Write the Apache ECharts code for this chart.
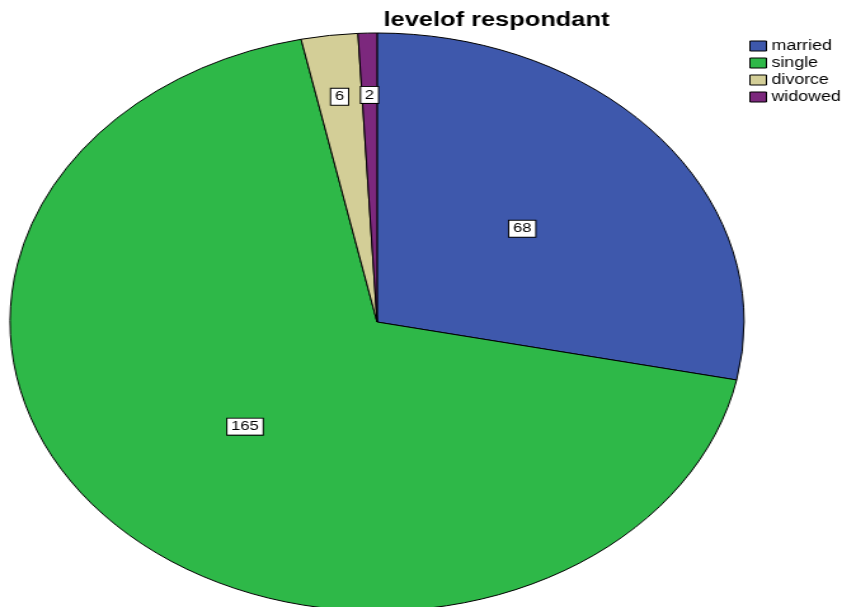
<!DOCTYPE html>
<html>
<head>
<meta charset="utf-8">
<script src="https://cdn.jsdelivr.net/npm/echarts@6/dist/echarts.min.js"></script>
<style>
  html, body { margin: 0; padding: 0; background: #fff; overflow: hidden; width: 845px; height: 607px; }
  /* The whole figure is drawn in a narrower space and stretched sideways, giving the oval pie and wide lettering. */
  #chart { position: absolute; left: 0; top: 0; width: 665.35px; height: 607px; transform: scaleX(1.27); transform-origin: 0 0; }
</style>
</head>
<body>
<div id="chart"></div>
<script>
// Marital status of respondents
const categories = ['married', 'single', 'divorce', 'widowed'];
const counts = [68, 165, 6, 2];
const sliceColors = ['#3E58AC', '#2EB848', '#D3CE97', '#7C287D'];
const chartTitle = 'levelof respondant';

const total = counts.reduce((a, b) => a + b, 0);
const pieCenter = [296.9, 322];
const pieRadius = 289;

const chart = echarts.init(document.getElementById('chart'), null, { renderer: 'canvas' });

chart.setOption({
  backgroundColor: 'transparent',
  animation: false,
  title: {
    text: chartTitle,
    left: 302,
    top: 10,
    padding: 0,
    textStyle: { fontFamily: 'Liberation Sans, Arial, sans-serif', fontSize: 20, fontWeight: 'bold', color: '#000' }
  },
  legend: {
    orient: 'vertical',
    left: 590,
    top: 39,
    padding: 0,
    itemWidth: 13,
    itemHeight: 10,
    itemGap: 3,
    icon: 'rect',
    selectedMode: false,
    itemStyle: { borderColor: '#000', borderWidth: 1 },
    textStyle: { fontFamily: 'Liberation Sans, Arial, sans-serif', fontSize: 14, lineHeight: 12, color: '#000', padding: [0, 0, 0, -1] },
    data: categories
  },
  series: [{
    type: 'pie',
    center: pieCenter,
    radius: pieRadius,
    startAngle: 90,
    clockwise: true,
    avoidLabelOverlap: false,
    emphasis: { disabled: true },
    itemStyle: { borderColor: '#000', borderWidth: 1 },
    label: {
      show: true,
      position: 'inside',
      formatter: '{c}',
      fontFamily: 'Liberation Sans, Arial, sans-serif',
      fontSize: 13,
      lineHeight: 14,
      color: '#000',
      backgroundColor: '#fff',
      borderColor: '#000',
      borderWidth: 1,
      padding: [1, 3, 1, 3]
    },
    // Labels of very thin slices sit further out towards the rim
    labelLayout: function (params) {
      const share = counts[params.dataIndex] / total;
      if (share >= 0.05) return {};
      const r = params.labelRect;
      const lx = r.x + r.width / 2 - pieCenter[0];
      const ly = r.y + r.height / 2 - pieCenter[1];
      return { dx: lx * 0.54, dy: ly * 0.54 };
    },
    data: categories.map((name, i) => ({ name: name, value: counts[i], itemStyle: { color: sliceColors[i] } }))
  }]
});
</script>
</body>
</html>
